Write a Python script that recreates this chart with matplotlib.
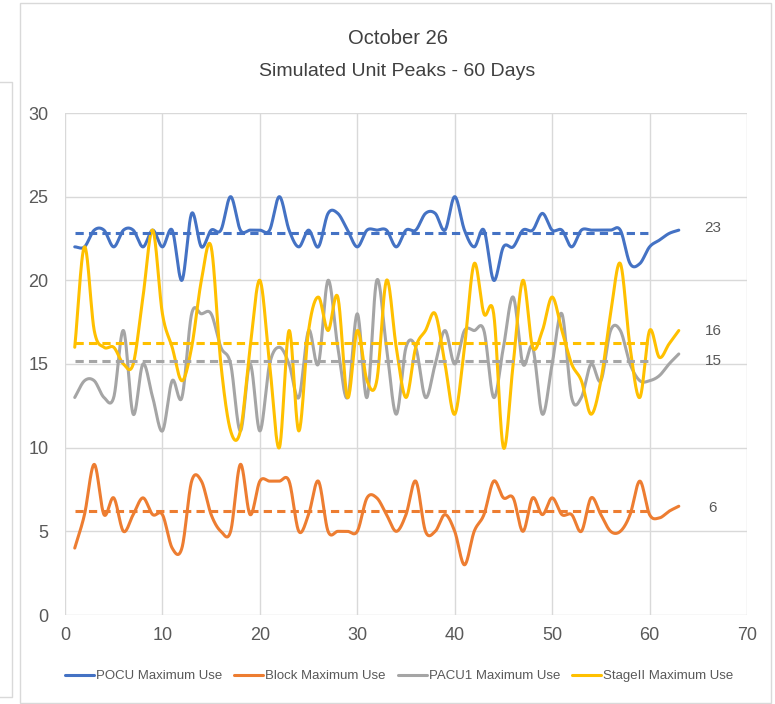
import numpy as np
import matplotlib
matplotlib.use("Agg")
import matplotlib.pyplot as plt
from matplotlib.patches import Rectangle
from matplotlib.lines import Line2D

plt.rcParams['font.family'] = ['Liberation Sans', 'DejaVu Sans']

# simulated days 1..63
days = list(range(1, 64))

pocu = [22, 22, 23, 23, 22, 23, 23, 22, 23, 22,
        23, 20, 24, 22, 23, 23, 25, 23, 23, 23,
        23, 25, 23, 22, 23, 22, 24, 24, 23, 22,
        23, 23, 23, 22, 23, 23, 24, 24, 23, 25,
        23, 22, 23, 20, 22, 22, 23, 23, 24, 23,
        23, 22, 23, 23, 23, 23, 23, 21, 21, 22,
        22.4, 22.8, 23]

block = [4, 6, 9, 6, 7, 5, 6, 7, 6, 6,
         4, 4, 8, 8, 6, 5, 5, 9, 6, 8,
         8, 8, 8, 5, 6, 8, 5, 5, 5, 5,
         7, 7, 6, 5, 6, 8, 5, 5, 6, 5,
         3, 5, 6, 8, 7, 7, 5, 7, 6, 7,
         6, 6, 5, 7, 6, 5, 5, 6, 8, 6,
         5.8, 6.2, 6.5]

pacu1 = [13, 14, 14, 13, 13, 17, 12, 15, 13, 11,
         14, 13, 18, 18, 18, 16, 15, 11, 15, 11,
         15, 16, 15, 13, 17, 15, 20, 16, 13, 18,
         13, 20, 16, 12, 16, 16, 13, 15, 17, 15,
         17, 17, 17, 13, 16, 19, 15, 16, 12, 15,
         18, 13, 13, 15, 14, 17, 17, 15, 14, 14,
         14.3, 15, 15.6]

stage2 = [16, 22, 17, 16, 16, 15, 15, 19, 23, 18,
          16, 14, 16, 20, 22, 15, 11, 11, 16, 20,
          15, 10, 17, 11, 17, 19, 17, 19, 13, 17,
          14, 14, 20, 16, 13, 16, 17, 18, 15, 12,
          16, 21, 18, 18, 10, 15, 20, 16, 17, 19,
          17, 15, 14, 12, 14, 18, 21, 16, 13, 17,
          15.4, 16.2, 17]

series_names = ["POCU Maximum Use", "Block Maximum Use", "PACU1 Maximum Use", "StageII Maximum Use"]
series_data = [pocu, block, pacu1, stage2]
colors = ["#4472C4", "#ED7D31", "#A5A5A5", "#FFC000"]

# 60-day averages (dashed) and their labels
mean_days = [1, 60]
means = [22.85, 6.24, 15.18, 16.24]
mean_labels = ["23", "6", "15", "16"]


def smooth(x, y, n=24):
    # catmull-rom style curve, like excel's "smoothed line"
    x = np.asarray(x, float)
    y = np.asarray(y, float)
    m = np.gradient(y, x)
    t = np.linspace(0, 1, n, endpoint=False)
    h00 = 2 * t**3 - 3 * t**2 + 1
    h10 = t**3 - 2 * t**2 + t
    h01 = -2 * t**3 + 3 * t**2
    h11 = t**3 - t**2
    xs, ys = [], []
    for i in range(len(x) - 1):
        h = x[i + 1] - x[i]
        xs.append(x[i] + t * h)
        ys.append(h00 * y[i] + h10 * h * m[i] + h01 * y[i + 1] + h11 * h * m[i + 1])
    xs.append([x[-1]])
    ys.append([y[-1]])
    return np.concatenate(xs), np.concatenate(ys)


fig = plt.figure(figsize=(7.75, 7.04), dpi=100)
ax = fig.add_axes([65 / 775, 1 - 615 / 704, (747 - 65) / 775, (615 - 113) / 704])

for name, vals, c in zip(series_names, series_data, colors):
    sx, sy = smooth(days, vals)
    ax.plot(sx, sy, color=c, lw=2.2, label=name, solid_capstyle='round')

# labels sit right of the last point, nudged like excel does
label_y = [23.1, 6.4, 15.2, 17.0]
for m, lab, ly, c in zip(means, mean_labels, label_y, colors):
    ax.plot(mean_days, [m, m], color=c, lw=2.2, dashes=(2.7, 1.7))
    ax.text(66.5, ly, lab, color="#595959", fontsize=11, va='center', ha='center')

ax.set_xlim(0, 70)
ax.set_ylim(0, 30)
ax.set_xticks(range(0, 71, 10))
ax.set_yticks(range(0, 31, 5))
ax.grid(True, color="#D9D9D9", lw=1)
ax.set_axisbelow(True)
for s in ax.spines.values():
    s.set_visible(False)
ax.tick_params(length=0, labelsize=13, colors="#595959", pad=12)
ax.tick_params(axis='x', pad=9)

fig.text(0.513, 1 - 38 / 704, "October 26", ha='center', va='center', fontsize=14.5, color="#404040")
fig.text(0.513, 1 - 71 / 704, "Simulated Unit Peaks - 60 Days", ha='center', va='center',
         fontsize=14, color="#404040")

leg = fig.legend(loc='center', bbox_to_anchor=(0.515, 1 - 676 / 704), ncol=4, frameon=False,
                 fontsize=9.5, handlelength=2.2, handletextpad=0.15, columnspacing=0.9)
for t in leg.get_texts():
    t.set_color("#595959")

# chart frame and the edge of the neighbouring chart
fig.patches.append(Rectangle((20 / 775, 1 / 704), 751 / 775, 700 / 704, transform=fig.transFigure,
                             fill=False, edgecolor="#D9D9D9", lw=1))
fig.lines.append(Line2D([0, 12 / 775, 12 / 775, 0], [1 - 82 / 704, 1 - 82 / 704, 1 - 697 / 704, 1 - 697 / 704],
                        transform=fig.transFigure, color="#D9D9D9", lw=1))

fig.savefig("out.png", dpi=100)
